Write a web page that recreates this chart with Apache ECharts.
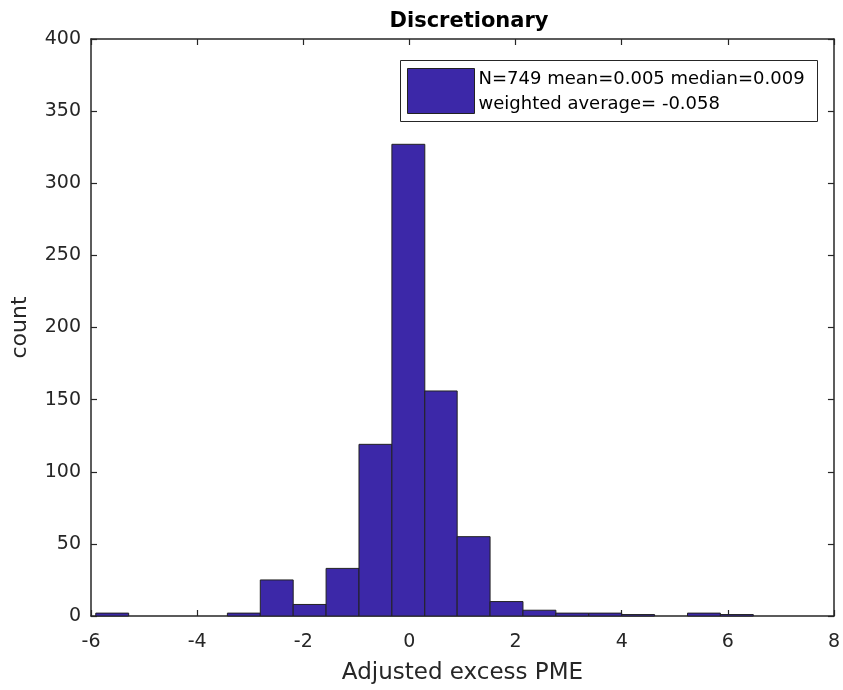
<!DOCTYPE html>
<html lang="en">
<head>
    <meta charset="UTF-8">
    <title>Discretionary</title>
    <script src="https://cdn.jsdelivr.net/npm/echarts@6/dist/echarts.min.js"></script>
    <style>
        html, body { margin: 0; padding: 0; background: #fff; }
        #main { width: 843px; height: 690px; }
    </style>
</head>
<body>
    <div id="main"></div>
    <script>
        // histogram bin edges and counts per bin
        var binEdges = [-5.91, -5.29, -4.67, -4.05, -3.43, -2.81, -2.19, -1.57, -0.95, -0.33,
                        0.29, 0.90, 1.52, 2.14, 2.76, 3.38, 4.00, 4.62, 5.24, 5.86, 6.48];
        var counts = [2, 0, 0, 0, 2, 25, 8, 33, 119, 327, 156, 55, 10, 4, 2, 2, 1, 0, 2, 1];
        var legendLines = ['N=749 mean=0.005 median=0.009', 'weighted average= -0.058'];

        var barColor = '#3c28a8';
        var axisColor = '#262626';
        var font = 'DejaVu Sans, Liberation Sans, sans-serif';

        var bins = counts.map(function (c, i) {
            return [binEdges[i], binEdges[i + 1], c];
        });

        var myChart = echarts.init(document.getElementById('main'));

        function axisBase(pos, isX) {
            return {
                type: 'value',
                position: pos,
                min: isX ? -6 : 0,
                max: isX ? 8 : 400,
                interval: isX ? 2 : 50,
                axisLine: { show: true, onZero: false, lineStyle: { color: axisColor, width: 1.5 } },
                axisTick: { show: true, inside: true, length: 6, lineStyle: { color: axisColor, width: 1.2 } },
                splitLine: { show: false },
                axisLabel: { show: false }
            };
        }

        var xBottom = axisBase('bottom', true);
        xBottom.axisLabel = { show: true, color: axisColor, fontSize: 19, fontFamily: font, margin: 17 };
        xBottom.name = 'Adjusted excess PME';
        xBottom.nameLocation = 'middle';
        xBottom.nameGap = 46;
        xBottom.nameTextStyle = { color: axisColor, fontSize: 23, fontFamily: font };

        var yLeft = axisBase('left', false);
        yLeft.axisLabel = { show: true, color: axisColor, fontSize: 19, fontFamily: font, margin: 10 };
        yLeft.name = 'count';
        yLeft.nameLocation = 'middle';
        yLeft.nameGap = 60;
        yLeft.nameTextStyle = { color: axisColor, fontSize: 22, fontFamily: font };

        var option = {
            animation: false,
            backgroundColor: '#fff',
            title: {
                text: 'Discretionary',
                left: 464,
                top: 6,
                textAlign: 'center',
                textStyle: { fontSize: 21, fontWeight: 'bold', color: '#000', fontFamily: font }
            },
            grid: { left: 91, right: 5, top: 39, bottom: 74 },
            xAxis: [xBottom, axisBase('top', true)],
            yAxis: [yLeft, axisBase('right', false)],
            series: [{
                type: 'custom',
                xAxisIndex: 0,
                yAxisIndex: 0,
                data: bins,
                encode: { x: [0, 1], y: 2 },
                renderItem: function (params, api) {
                    if (api.value(2) <= 0) return;
                    var p0 = api.coord([api.value(0), api.value(2)]);
                    var p1 = api.coord([api.value(1), 0]);
                    return {
                        type: 'rect',
                        shape: { x: p0[0], y: p0[1], width: p1[0] - p0[0], height: p1[1] - p0[1] },
                        style: { fill: barColor, stroke: '#222', lineWidth: 1 }
                    };
                }
            }],
            graphic: [{
                type: 'group',
                left: 400,
                top: 60,
                children: [
                    { type: 'rect', shape: { x: 0, y: 0, width: 417, height: 61 },
                      style: { fill: '#fff', stroke: axisColor, lineWidth: 1 } },
                    { type: 'rect', shape: { x: 7, y: 8, width: 67, height: 45 },
                      style: { fill: barColor, stroke: '#222', lineWidth: 1 } },
                    { type: 'text', x: 78, y: 19, style: { text: legendLines[0], fontSize: 18,
                      fontFamily: font, fill: '#000', verticalAlign: 'middle' } },
                    { type: 'text', x: 78, y: 44, style: { text: legendLines[1], fontSize: 18,
                      fontFamily: font, fill: '#000', verticalAlign: 'middle' } }
                ]
            }]
        };
        myChart.setOption(option);
    </script>
</body>
</html>
